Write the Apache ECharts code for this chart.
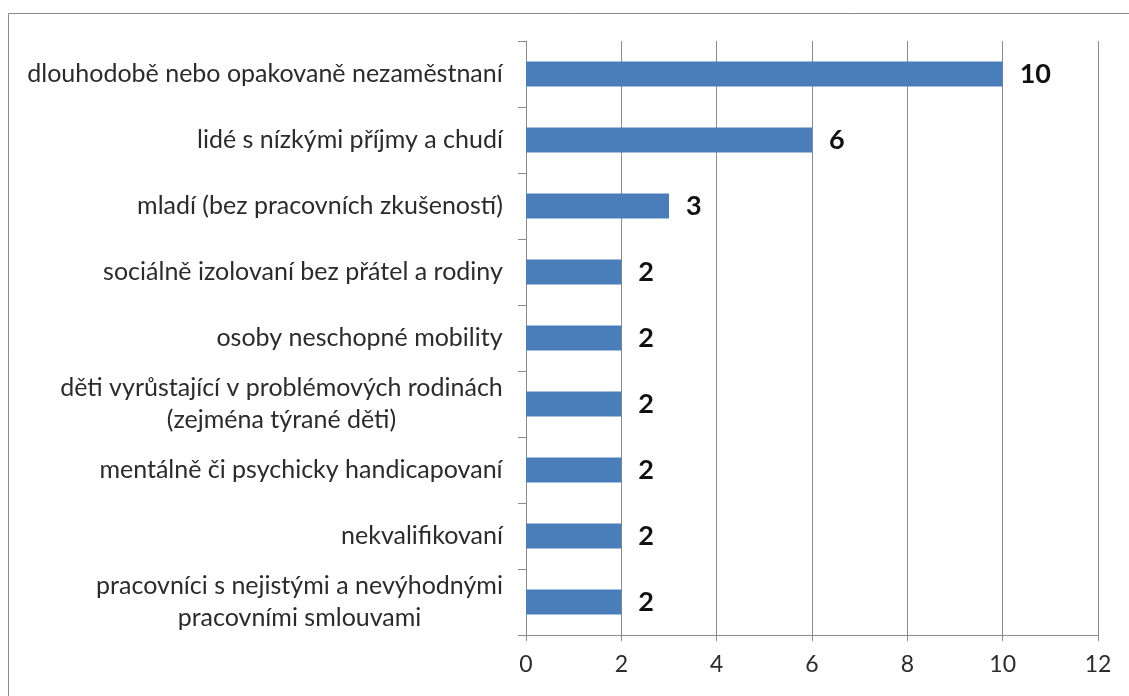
<!DOCTYPE html>
<html>
<head>
<meta charset="utf-8">
<script src="https://cdn.jsdelivr.net/npm/echarts@6/dist/echarts.min.js"></script>
<style>
html,body{margin:0;padding:0;background:#fff;}
#chart{width:1129px;height:696px;}
</style>
</head>
<body>
<div id="chart"></div>
<script>
const categories = [
  'dlouhodobě nebo opakovaně nezaměstnaní',
  'lidé s nízkými příjmy a chudí',
  'mladí (bez pracovních zkušeností)',
  'sociálně izolovaní bez přátel a rodiny',
  'osoby neschopné mobility',
  'děti vyrůstající v problémových rodinách\n(zejména týrané děti)',
  'mentálně či psychicky handicapovaní',
  'nekvalifikovaní',
  'pracovníci s nejistými a nevýhodnými\npracovními smlouvami'
];
const values = [10, 6, 3, 2, 2, 2, 2, 2, 2];
const xMin = 0, xMax = 12, xInterval = 2;

const labelFont = 'Lato';
const labelSize = 25;
const ctx = document.createElement('canvas').getContext('2d');
ctx.font = labelSize + 'px ' + labelFont;
const rich = {};
categories.forEach((c, i) => {
  const lines = c.split('\n');
  const w = Math.max(...lines.map(l => ctx.measureText(l).width));
  rich['r' + i] = {
    width: Math.ceil(w) + 2, align: 'center',
    fontFamily: labelFont, fontSize: labelSize, color: '#2b2b2b', lineHeight: 32
  };
});

const chart = echarts.init(document.getElementById('chart'));
chart.setOption({
  animation: false,
  backgroundColor: '#fff',
  graphic: [{
    type: 'rect', silent: true,
    shape: {x: 8.5, y: 13.5, width: 1200, height: 800},
    style: {fill: 'none', stroke: '#8a8a8a', lineWidth: 1}
  }],
  grid: {left: 526, right: 31, top: 41, bottom: 61, containLabel: false},
  xAxis: {
    type: 'value', min: xMin, max: xMax, interval: xInterval,
    axisLine: {show: true, lineStyle: {color: '#8c8c8c', width: 1}},
    axisTick: {show: true, length: 6, lineStyle: {color: '#8c8c8c'}},
    splitLine: {show: true, lineStyle: {color: '#8c8c8c', width: 1}},
    axisLabel: {fontFamily: labelFont, fontSize: 23, color: '#2b2b2b', margin: 18}
  },
  yAxis: {
    type: 'category', data: categories, inverse: true,
    axisLine: {show: true, lineStyle: {color: '#8c8c8c', width: 1}},
    axisTick: {show: true, length: 8, lineStyle: {color: '#8c8c8c'}},
    splitLine: {show: false},
    axisLabel: {
      fontFamily: labelFont, fontSize: labelSize, color: '#2b2b2b', margin: 22,
      lineHeight: 32,
      formatter: (v, i) => v.split('\n').map(l => '{r' + i + '|' + l + '}').join('\n'),
      rich: rich
    }
  },
  series: [{
    type: 'bar', data: values, barWidth: 25,
    itemStyle: {color: '#4a7ebb'},
    label: {
      show: true, position: 'right', distance: 17,
      fontFamily: labelFont, fontSize: 27, fontWeight: 'bold', color: '#111'
    }
  }]
});
</script>
</body>
</html>
